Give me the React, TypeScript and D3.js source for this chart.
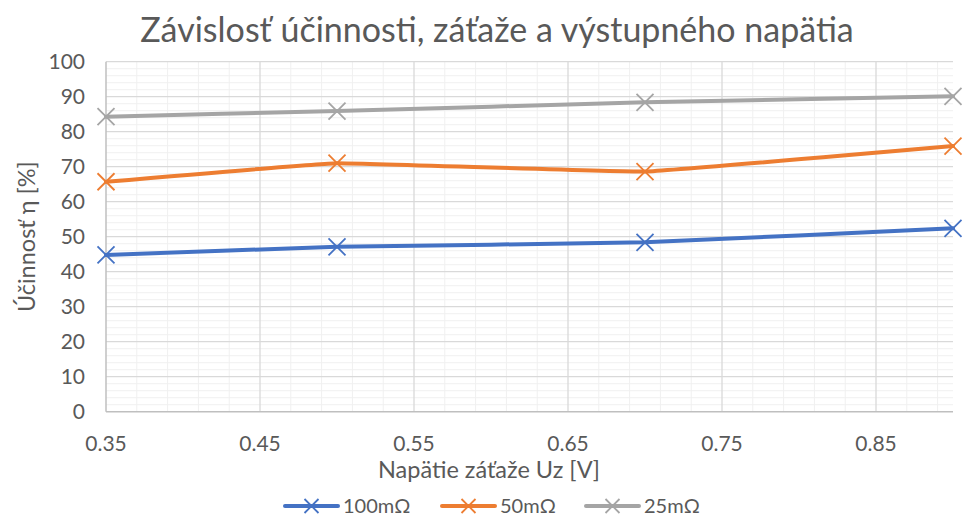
import React, { useRef, useEffect } from 'react';
import * as d3 from 'd3';

const xValues = [0.35, 0.5, 0.7, 0.9];
const series100 = [44.8, 47.1, 48.4, 52.4];
const series50 = [65.7, 71.0, 68.6, 75.9];
const series25 = [84.3, 85.9, 88.4, 90.1];
const seriesNames = ['100mΩ', '50mΩ', '25mΩ'];
const xTicks = [0.35, 0.45, 0.55, 0.65, 0.75, 0.85];
const yTicks = [0, 10, 20, 30, 40, 50, 60, 70, 80, 90, 100];

const colors = ['#4472C4', '#ED7D31', '#A5A5A5'];
const font = 'Lato, "Open Sans", sans-serif';

const W = 965;
const H = 519;

const App = () => {
  const ref = useRef<SVGSVGElement>(null);

  useEffect(() => {
    const svg = d3.select(ref.current);
    svg.selectAll('*').remove();

    const left = 106, right = 953, top = 61.7, bottom = 411.7;
    const x = d3.scaleLinear().domain([0.35, 0.9]).range([left, right]);
    const y = d3.scaleLinear().domain([0, 100]).range([bottom, top]);

    svg.append('rect').attr('width', W).attr('height', H).attr('fill', '#fff');

    const grid = svg.append('g');
    // minor grid
    const minorY = d3.range(0, 100.001, 2).filter(v => v % 10 !== 0);
    grid.selectAll('.my').data(minorY).join('line')
      .attr('x1', left).attr('x2', right)
      .attr('y1', d => y(d)).attr('y2', d => y(d))
      .attr('stroke', '#f0f0f0').attr('stroke-width', 1);
    const minorX = d3.range(0, 28).map(i => 0.35 + i * 0.02)
      .filter(v => v <= 0.9001 && Math.abs(((v - 0.35) / 0.1) - Math.round((v - 0.35) / 0.1)) > 0.01);
    grid.selectAll('.mx').data(minorX).join('line')
      .attr('y1', top).attr('y2', bottom)
      .attr('x1', d => x(d)).attr('x2', d => x(d))
      .attr('stroke', '#f0f0f0').attr('stroke-width', 1);
    // major grid
    grid.selectAll('.Y').data(yTicks.slice(1)).join('line')
      .attr('x1', left).attr('x2', right)
      .attr('y1', d => y(d)).attr('y2', d => y(d))
      .attr('stroke', '#d9d9d9').attr('stroke-width', 1.3);
    grid.selectAll('.X').data(xTicks.slice(1)).join('line')
      .attr('y1', top).attr('y2', bottom)
      .attr('x1', d => x(d)).attr('x2', d => x(d))
      .attr('stroke', '#d9d9d9').attr('stroke-width', 1.3);
    // axis lines
    grid.append('line').attr('x1', left).attr('x2', left).attr('y1', top).attr('y2', bottom)
      .attr('stroke', '#bfbfbf').attr('stroke-width', 1.5);
    grid.append('line').attr('x1', left).attr('x2', right).attr('y1', bottom).attr('y2', bottom)
      .attr('stroke', '#bfbfbf').attr('stroke-width', 1.5);

    // tick labels
    svg.append('g').selectAll('text').data(yTicks).join('text')
      .attr('x', 85).attr('y', d => y(d)).attr('dy', '0.35em')
      .attr('text-anchor', 'end').attr('fill', '#595959')
      .attr('font-family', font).attr('font-size', 21)
      .text(d => d);
    svg.append('g').selectAll('text').data(xTicks).join('text')
      .attr('x', d => x(d)).attr('y', 444).attr('dy', '0.35em')
      .attr('text-anchor', 'middle').attr('fill', '#595959')
      .attr('font-family', font).attr('font-size', 21)
      .text(d => d3.format('.2f')(d));

    // titles
    svg.append('text').attr('x', 497).attr('y', 30).attr('dy', '0.35em')
      .attr('text-anchor', 'middle').attr('fill', '#595959')
      .attr('font-family', font).attr('font-size', 34)
      .text('Závislosť účinnosti, záťaže a výstupného napätia');
    svg.append('text').attr('x', 489).attr('y', 470).attr('dy', '0.35em')
      .attr('text-anchor', 'middle').attr('fill', '#595959')
      .attr('font-family', font).attr('font-size', 23.5)
      .text('Napätie záťaže Uz [V]');
    svg.append('text')
      .attr('transform', `translate(27,${(top + bottom) / 2}) rotate(-90)`)
      .attr('dy', '0.35em')
      .attr('text-anchor', 'middle').attr('fill', '#595959')
      .attr('font-family', font).attr('font-size', 23.5)
      .text('Účinnosť η [%]');

    const allSeries = [series100, series50, series25];
    const line = d3.line<number>()
      .x((_, i) => x(xValues[i]))
      .y(d => y(d))
      .curve(d3.curveCardinal.tension(0.8));

    const cross = (g: any, cx: number, cy: number, c: string, s: number) => {
      g.append('path')
        .attr('d', `M${cx - s},${cy - s}L${cx + s},${cy + s}M${cx - s},${cy + s}L${cx + s},${cy - s}`)
        .attr('stroke', c).attr('stroke-width', 1.8).attr('fill', 'none');
    };

    allSeries.forEach((vals, si) => {
      const g = svg.append('g');
      g.append('path').datum(vals).attr('d', line)
        .attr('fill', 'none').attr('stroke', colors[si]).attr('stroke-width', 4)
        .attr('stroke-linecap', 'round');
      vals.forEach((v, i) => cross(g, x(xValues[i]), y(v), colors[si], 8.5));
    });

    // legend
    const legendX = [285, 442, 586];
    const ly = 506;
    seriesNames.forEach((name, i) => {
      const g = svg.append('g');
      const lx = legendX[i];
      g.append('line').attr('x1', lx).attr('x2', lx + 53).attr('y1', ly).attr('y2', ly)
        .attr('stroke', colors[i]).attr('stroke-width', 4).attr('stroke-linecap', 'round');
      cross(g, lx + 26.5, ly, colors[i], 7);
      g.append('text').attr('x', lx + 58).attr('y', ly).attr('dy', '0.35em')
        .attr('fill', '#595959').attr('font-family', font).attr('font-size', 20)
        .text(name);
    });
  }, []);

  return (
    <svg ref={ref} width={W} height={H}
      style={{ position: 'absolute', left: 0, top: 0, display: 'block' }} />
  );
};

export default App;
